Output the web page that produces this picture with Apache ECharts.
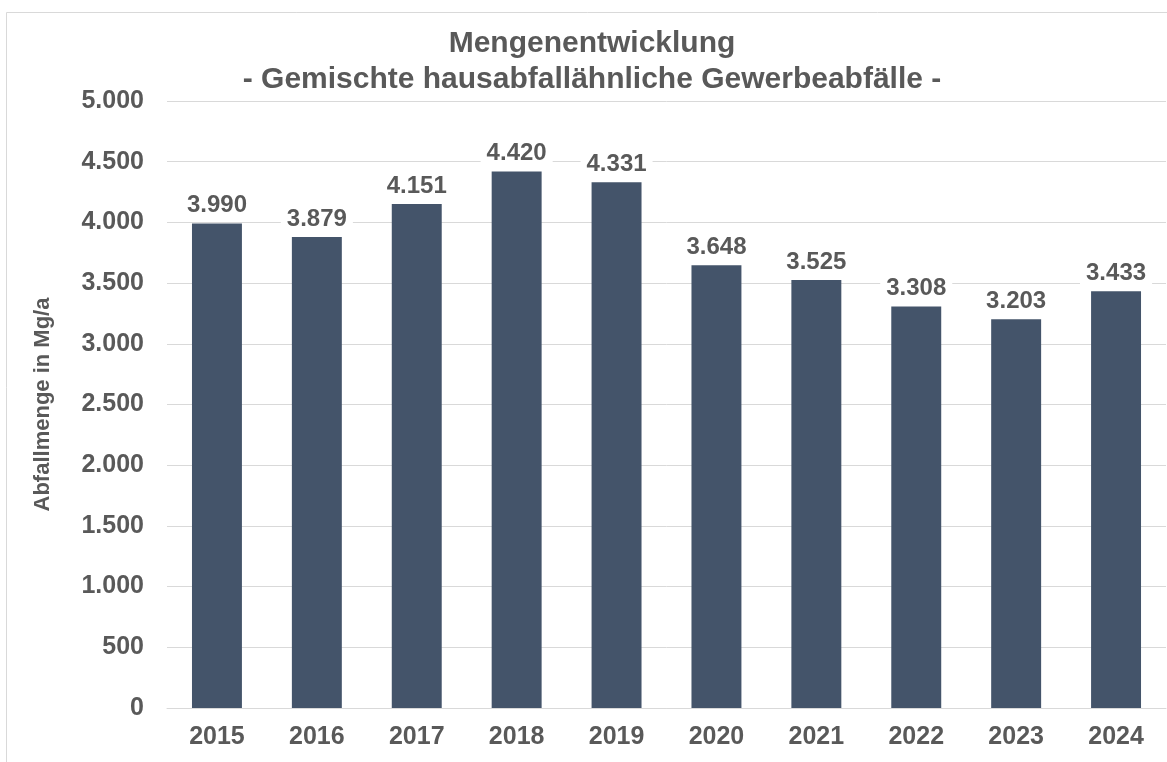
<!DOCTYPE html>
<html>
<head>
<meta charset="utf-8">
<script src="https://cdn.jsdelivr.net/npm/echarts@6/dist/echarts.min.js"></script>
<style>
  html, body { margin: 0; padding: 0; background: #fff; }
  #chart { width: 1167px; height: 762px; }
</style>
</head>
<body>
<div id="chart"></div>
<script>
// Jahre
var years = ['2015', '2016', '2017', '2018', '2019', '2020', '2021', '2022', '2023', '2024'];
// Abfallmenge in Mg/a
var mengen = [3990, 3879, 4151, 4420, 4331, 3648, 3525, 3308, 3203, 3433];
// Titelzeilen
var titel1 = 'Mengenentwicklung';
var titel2 = '- Gemischte hausabfallähnliche Gewerbeabfälle -';

// Tausenderpunkt wie im Original
function fmt(v) {
    return String(v).replace(/\B(?=(\d{3})+(?!\d))/g, '.');
}

var textColor = '#595959';
var fontFam = 'Liberation Sans, Arial, sans-serif';

var myChart = echarts.init(document.getElementById('chart'));
var option = {
    backgroundColor: '#fff',
    animation: false,
    graphic: [{
        type: 'rect',
        shape: { x: 6.5, y: 12.5, width: 1300, height: 900 },
        style: { fill: 'none', stroke: '#d9d9d9', lineWidth: 1 },
        silent: true
    }, {
        type: 'text',
        x: 592,
        y: 44,
        style: {
            text: titel1,
            fill: textColor,
            font: 'bold 30px ' + fontFam,
            textAlign: 'center',
            textVerticalAlign: 'middle'
        }
    }, {
        type: 'text',
        x: 592,
        y: 80,
        style: {
            text: titel2,
            fill: textColor,
            font: 'bold 30px ' + fontFam,
            textAlign: 'center',
            textVerticalAlign: 'middle'
        }
    }],
    grid: {
        left: 167,
        right: 1,
        top: 101,
        bottom: 54
    },
    xAxis: {
        type: 'category',
        data: years,
        axisTick: { show: false },
        axisLine: { lineStyle: { color: '#d9d9d9', width: 1 } },
        axisLabel: {
            margin: 17,
            color: textColor,
            fontFamily: fontFam,
            fontWeight: 'bold',
            fontSize: 25
        }
    },
    yAxis: {
        type: 'value',
        min: 0,
        max: 5000,
        interval: 500,
        name: 'Abfallmenge in Mg/a',
        nameLocation: 'middle',
        nameGap: 113,
        nameTextStyle: {
            color: textColor,
            fontFamily: fontFam,
            fontWeight: 'bold',
            fontSize: 22
        },
        axisLine: { show: false },
        axisTick: { show: false },
        splitLine: { lineStyle: { color: '#d9d9d9', width: 1 } },
        axisLabel: {
            margin: 23,
            color: textColor,
            fontFamily: fontFam,
            fontWeight: 'bold',
            fontSize: 25,
            formatter: function (v) { return fmt(v); }
        }
    },
    series: [{
        type: 'bar',
        data: mengen,
        barWidth: '50%',
        itemStyle: { color: '#44546A' },
        label: {
            show: true,
            position: 'top',
            distance: 5,
            color: textColor,
            fontFamily: fontFam,
            fontWeight: 'bold',
            fontSize: 24,
            backgroundColor: '#fff',
            padding: [1, 6],
            formatter: function (p) { return fmt(p.value); }
        }
    }]
};
myChart.setOption(option);
</script>
</body>
</html>
